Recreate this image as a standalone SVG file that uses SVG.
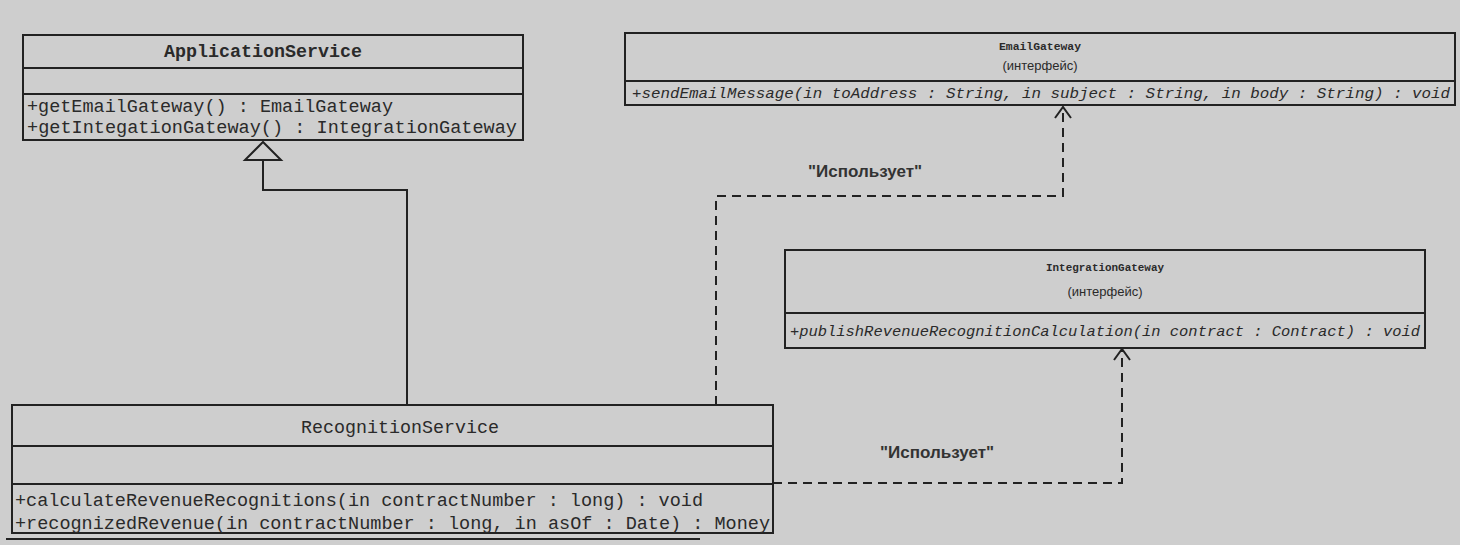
<svg xmlns="http://www.w3.org/2000/svg" width="1460" height="545" viewBox="0 0 1460 545">
<style>
.box{fill:none;stroke:#222;stroke-width:2}
.div{stroke:#222;stroke-width:1.8}
.mono{font-family:"Liberation Mono","DejaVu Sans Mono",monospace;fill:#2a2a2a}
.name{font-size:18px;font-weight:bold;text-anchor:middle}
.meth{font-size:18.5px}
.iname{font-size:11px;font-weight:bold;text-anchor:middle}
.imeth{font-size:15.5px;font-style:italic}
.stereo{font-family:"Liberation Sans","DejaVu Sans Condensed",sans-serif;font-size:13px;text-anchor:middle;fill:#2a2a2a}
.lbl{font-family:"Liberation Sans",Arial,sans-serif;font-size:17px;font-weight:bold;fill:#333}
.dep{fill:none;stroke:#222;stroke-width:2;stroke-dasharray:9,6}
.solid{fill:none;stroke:#222;stroke-width:2}
</style>
<defs>
<marker id="open" viewBox="0 0 20 20" refX="10" refY="2" markerWidth="20" markerHeight="20" markerUnits="userSpaceOnUse" orient="auto-start-reverse">
<path d="M2,12 L10,2 L18,12" fill="none" stroke="#222" stroke-width="2"/>
</marker>
</defs>
<rect width="1460" height="545" fill="#cecece"/>

<g id="connectors">
<path class="solid" d="M407,405 V190 H263 V160"/>
<polygon points="263,142 245,160 281,160" fill="#cecece" stroke="#222" stroke-width="2"/>
<path class="dep" d="M716,405 V196 H1063 V108"/>
<path d="M1055,118 L1063,107 L1071,118" fill="none" stroke="#222" stroke-width="2"/>
<path class="dep" d="M773,483 H1122 V350"/>
<path d="M1114,360 L1122,349 L1130,360" fill="none" stroke="#222" stroke-width="2"/>
<text class="lbl" x="808" y="177">"Использует"</text>
<text class="lbl" x="880" y="458">"Использует"</text>
</g>

<g id="ApplicationService">
<rect class="box" x="23" y="35" width="500" height="105"/>
<line class="div" x1="23" y1="68" x2="523" y2="68"/>
<line class="div" x1="23" y1="94" x2="523" y2="94"/>
<text class="mono name" x="263" y="57" textLength="198" lengthAdjust="spacingAndGlyphs">ApplicationService</text>
<text class="mono meth" x="27" y="112" textLength="366" lengthAdjust="spacingAndGlyphs">+getEmailGateway() : EmailGateway</text>
<text class="mono meth" x="27" y="133" textLength="490" lengthAdjust="spacingAndGlyphs">+getIntegationGateway() : IntegrationGateway</text>
</g>

<g id="EmailGateway">
<rect class="box" x="625" y="33" width="830" height="72"/>
<line class="div" x1="625" y1="81" x2="1455" y2="81"/>
<text class="mono iname" x="1040" y="50" textLength="82" lengthAdjust="spacingAndGlyphs">EmailGateway</text>
<text class="stereo" x="1040" y="70">(интерфейс)</text>
<text class="mono imeth" x="632" y="98" textLength="818" lengthAdjust="spacingAndGlyphs">+sendEmailMessage(in toAddress : String, in subject : String, in body : String) : void</text>
</g>

<g id="IntegrationGateway">
<rect class="box" x="785" y="250" width="640" height="98"/>
<line class="div" x1="785" y1="313" x2="1425" y2="313"/>
<text class="mono iname" x="1105" y="271" textLength="118" lengthAdjust="spacingAndGlyphs">IntegrationGateway</text>
<text class="stereo" x="1105" y="296">(интерфейс)</text>
<text class="mono imeth" x="790" y="336" textLength="630" lengthAdjust="spacingAndGlyphs">+publishRevenueRecognitionCalculation(in contract : Contract) : void</text>
</g>

<g id="RecognitionService">
<rect class="box" x="12" y="405" width="761" height="128"/>
<line class="div" x1="12" y1="446" x2="773" y2="446"/>
<line class="div" x1="12" y1="484" x2="773" y2="484"/>
<text class="mono name" x="400" y="433" style="font-weight:normal" textLength="198" lengthAdjust="spacingAndGlyphs">RecognitionService</text>
<text class="mono meth" x="15" y="506" textLength="688" lengthAdjust="spacingAndGlyphs">+calculateRevenueRecognitions(in contractNumber : long) : void</text>
<text class="mono meth" x="15" y="529" textLength="755" lengthAdjust="spacingAndGlyphs">+recognizedRevenue(in contractNumber : long, in asOf : Date) : Money</text>
<line class="div" x1="6" y1="539" x2="700" y2="539"/>
</g>
</svg>
